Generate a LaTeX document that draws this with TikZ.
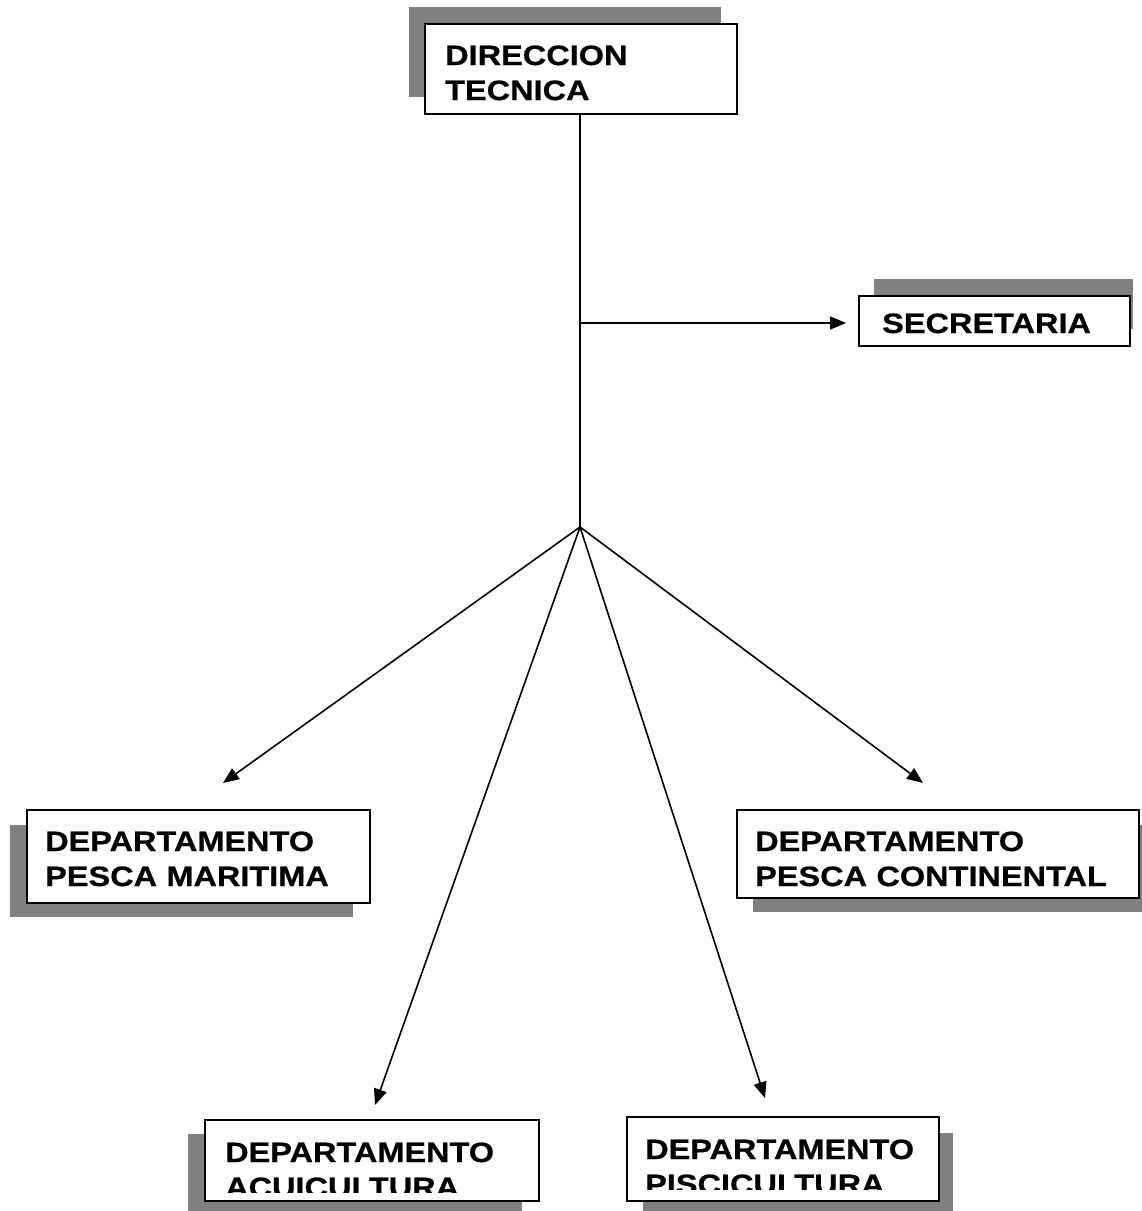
\documentclass[tikz,border=0pt]{standalone}
\usepackage{fontspec}
\setmainfont{Liberation Sans}[FakeStretch=1.16,FakeBold=0.6]
\usetikzlibrary{arrows.meta}
\definecolor{shadowgray}{HTML}{808080}
\begin{document}
\begin{tikzpicture}[x=1pt,y=-1pt,
  box/.style={draw=black,line width=2pt,fill=white,inner sep=0pt,anchor=north west},
  lbl/.style={anchor=base west,inner sep=0pt,text width=420pt,align=left,
    font=\fontsize{28}{35}\selectfont\bfseries},
  conn/.style={line width=1.6pt,-{Triangle[length=16pt,width=13pt]}},
  plain/.style={line width=1.6pt}]
\useasboundingbox (0,0) rectangle (1142,1211);
% shadows
\fill[shadowgray] (409,7) rectangle (721,97);
\fill[shadowgray] (874,279) rectangle (1133,329);
\fill[shadowgray] (10,825) rectangle (353,917);
\fill[shadowgray] (753,825) rectangle (1142,912);
\fill[shadowgray] (188,1134) rectangle (522,1211);
\fill[shadowgray] (643,1133) rectangle (953,1211);
% boxes
\node[box,minimum width=312pt,minimum height=90pt] (dir) at (424,23) {};
\node[box,minimum width=271pt,minimum height=50pt] (sec) at (858,295) {};
\node[box,minimum width=343pt,minimum height=93pt] (mar) at (26,809) {};
\node[box,minimum width=402pt,minimum height=88pt] (con) at (736,809) {};
\node[box,minimum width=334pt,minimum height=81pt] (acu) at (204,1119) {};
\node[box,minimum width=312pt,minimum height=84pt] (pis) at (626,1116) {};
% texts
\node[lbl] (tdir) at (445,65) {DIRECCION\\TECNICA};
\node[lbl] (tsec) at (882,333) {SECRETARIA};
\node[lbl] (tmar) at (45,851) {DEPARTAMENTO\\PESCA MARITIMA};
\node[lbl] (tcon) at (755,851) {DEPARTAMENTO\\PESCA CONTINENTAL};
\begin{scope}
\clip (205,1120) rectangle (537,1192);
\node[lbl] (tacu) at (225,1162) {DEPARTAMENTO\\ACUICULTURA};
\end{scope}
\begin{scope}
\clip (627,1117) rectangle (937,1189);
\node[lbl] (tpis) at (645,1159) {DEPARTAMENTO\\PISCICULTURA};
\end{scope}
% connectors
\coordinate (j) at (580,527);
\coordinate (b) at (580,323);
\coordinate (tipmar) at (223,783);
\coordinate (tipacu) at (375,1105);
\coordinate (tippis) at (765,1098);
\coordinate (tipcon) at (923,783);
\draw[plain] (dir.south -| j) -- (j);
\draw[conn,shorten >=12pt] (b) -- (b -| sec.west);
\draw[conn] (j) -- (tipmar);
\draw[conn] (j) -- (tipacu);
\draw[conn] (j) -- (tippis);
\draw[conn] (j) -- (tipcon);
\end{tikzpicture}
\end{document}
